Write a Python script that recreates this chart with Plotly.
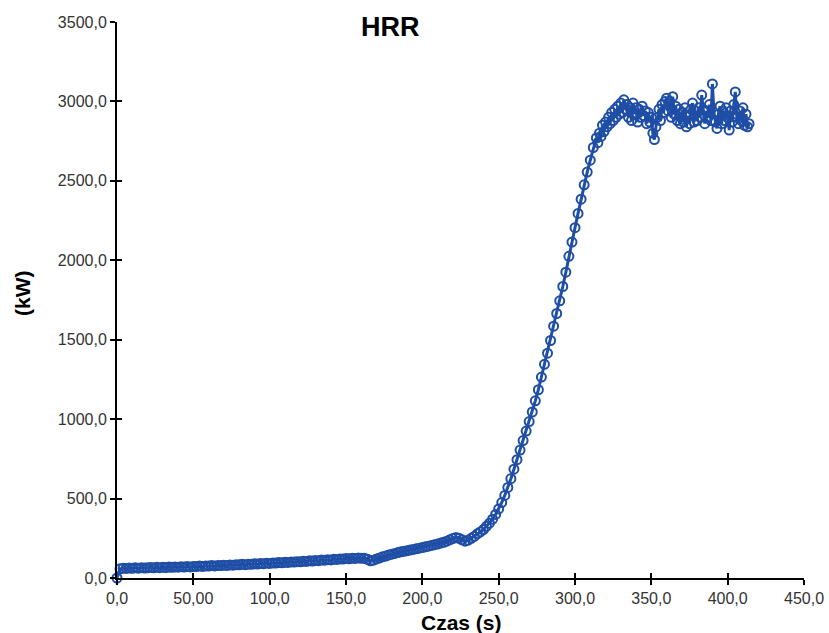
import plotly.graph_objects as go

# Time (s): every 2 s up to 312 s, then every 1 s on the plateau
czas = list(range(0, 314, 2)) + list(range(314, 415, 1))
# Heat release rate (kW)
hrr = [
    # 0 .. 312 s (2 s step)
    0, 58, 62, 60, 63, 61, 64, 62, 65, 63,
    64, 66, 64, 67, 65, 68, 66, 69, 67, 70,
    68, 71, 69, 72, 70, 73, 72, 75, 73, 76,
    75, 78, 76, 79, 78, 81, 79, 82, 81, 84,
    83, 86, 84, 87, 86, 89, 88, 91, 90, 93,
    92, 95, 94, 97, 96, 99, 98, 101, 100, 103,
    102, 106, 104, 108, 107, 110, 109, 113, 112, 115,
    114, 118, 117, 120, 119, 122, 121, 124, 123, 126,
    124, 125, 118, 108, 112, 120, 126, 133, 138, 145,
    150, 155, 160, 165, 168, 172, 176, 180, 184, 188,
    192, 196, 200, 205, 210, 214, 220, 225, 232, 240,
    248, 255, 250, 240, 232, 238, 250, 262, 278, 290,
    305, 325, 345, 370, 400, 435, 475, 520, 570, 625,
    685, 745, 805, 865, 925, 985, 1045, 1115, 1185, 1265,
    1345, 1415, 1495, 1585, 1665, 1745, 1835, 1925, 2025, 2115,
    2205, 2295, 2385, 2475, 2555, 2630, 2710,
    # 314 .. 414 s (1 s step)
    2770, 2740, 2800, 2780, 2850, 2810, 2870, 2840, 2900, 2860,
    2930, 2880, 2950, 2900, 2970, 2920, 2990, 2930, 3010, 2950,
    2980, 2900, 2960, 2880, 2990, 2920, 2960, 2870, 2950, 2900,
    2970, 2910, 2940, 2860, 2930, 2870, 2900, 2800, 2760, 2840,
    2900, 2950, 2880, 2980, 2930, 3000, 3020, 2940, 3000, 2900,
    3030, 2920, 2970, 2880, 2950, 2860, 2930, 2870, 2960, 2840,
    2910, 2860, 2950, 2990, 2870, 2940, 2880, 2960, 2900, 3040,
    2950, 2860, 2940, 2900, 2980, 2880, 3110, 2930, 2870, 2830,
    2920, 2970, 2860, 2940, 2880, 2960, 2900, 2820, 2940, 2870,
    2980, 3060, 2900, 2860, 2940, 2880, 2960, 2850, 2920, 2840, 2860,
]
n = min(len(czas), len(hrr))
czas, hrr = czas[:n], hrr[:n]

x_tickvals = [0, 50, 100, 150, 200, 250, 300, 350, 400, 450]
x_ticktext = ["0,0", "50,00", "100,0", "150,0", "200,0", "250,0", "300,0", "350,0", "400,0", "450,0"]
y_tickvals = [0, 500, 1000, 1500, 2000, 2500, 3000, 3500]
y_ticktext = ["0,0", "500,0", "1000,0", "1500,0", "2000,0", "2500,0", "3000,0", "3500,0"]

blue = "#1f4ea6"
font_family = "Liberation Sans, Arial, sans-serif"

fig = go.Figure()
fig.add_trace(go.Scatter(
    x=czas, y=hrr, mode="lines+markers",
    line=dict(color=blue, width=3),
    marker=dict(symbol="circle-open", size=9, color=blue, line=dict(width=2, color=blue)),
    cliponaxis=False, showlegend=False, hoverinfo="x+y",
))

tickfont = dict(family=font_family, size=16, color="#333333")

W, H = 829, 633
ml, mr, mt, mb = 117, 25, 22, 55
plot_w = W - ml - mr
plot_h = H - mt - mb

def px_x(page_x):
    return (page_x - ml) / plot_w

def px_y(page_y):
    return ((mt + plot_h) - page_y) / plot_h

fig.update_layout(
    width=W, height=H,
    margin=dict(l=ml, r=mr, t=mt, b=mb, autoexpand=False),
    paper_bgcolor="white", plot_bgcolor="white",
    xaxis=dict(range=[0, 450], tickvals=x_tickvals, ticktext=x_ticktext,
               showgrid=False, zeroline=False, showline=True, linecolor="black", linewidth=2,
               ticks="outside", ticklen=5, tickwidth=2, tickcolor="black", tickfont=tickfont),
    yaxis=dict(range=[0, 3500], tickvals=y_tickvals, ticktext=y_ticktext,
               showgrid=False, zeroline=False, showline=True, linecolor="black", linewidth=2,
               ticks="outside", ticklen=5, tickwidth=2, tickcolor="black", tickfont=tickfont),
    xaxis2=dict(range=[0, 450], overlaying="x", tickvals=x_tickvals, showticklabels=False,
                showgrid=False, zeroline=False, showline=False,
                ticks="inside", ticklen=5, tickwidth=2, tickcolor="black"),
    yaxis2=dict(range=[0, 3500], overlaying="y", tickvals=y_tickvals, showticklabels=False,
                showgrid=False, zeroline=False, showline=False,
                ticks="inside", ticklen=5, tickwidth=2, tickcolor="black"),
    annotations=[
        dict(text="<b>HRR</b>", x=px_x(390), y=px_y(27), xref="paper", yref="paper", showarrow=False,
             xanchor="center", yanchor="middle",
             font=dict(family=font_family, size=27, color="black")),
        dict(text="<b>Czas (s)</b>", x=px_x(462), y=px_y(622), xref="paper", yref="paper", showarrow=False,
             xanchor="center", yanchor="middle",
             font=dict(family=font_family, size=21, color="black")),
        dict(text="<b>(kW)</b>", x=px_x(22), y=px_y(293), xref="paper", yref="paper", showarrow=False,
             xanchor="center", yanchor="middle",
             textangle=-90, font=dict(family=font_family, size=21, color="black")),
    ],
)

# invisible trace to activate the overlay axes (crossing tick marks)
fig.add_trace(go.Scatter(x=[None], y=[None], xaxis="x2", yaxis="y2", showlegend=False, hoverinfo="skip"))

fig.write_html(
    "out.html",
    config={"displayModeBar": False},
    post_script="document.body.style.margin='0';document.body.style.overflow='hidden';",
)
